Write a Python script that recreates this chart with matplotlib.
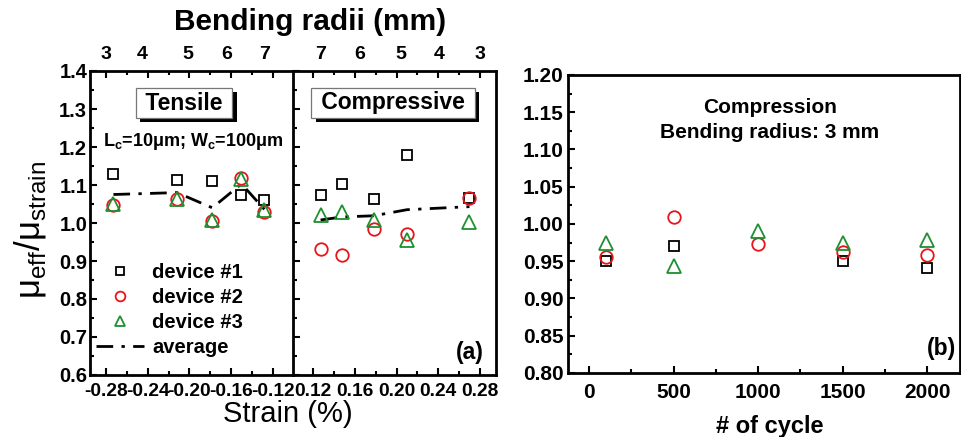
import numpy as np
import matplotlib
matplotlib.use('Agg')
import matplotlib.pyplot as plt
from matplotlib.lines import Line2D
import matplotlib.patheffects as pe

plt.rcParams['font.family'] = ['Liberation Sans', 'DejaVu Sans']
plt.rcParams['mathtext.fontset'] = 'custom'
plt.rcParams['mathtext.rm'] = 'Liberation Sans'

# ---- data, panel (a) tensile
strain_t = [-0.273, -0.212, -0.178, -0.150, -0.128]
dev1_t = [1.129, 1.113, 1.110, 1.074, 1.060]
dev2_t = [1.047, 1.062, 1.004, 1.118, 1.030]
dev3_t = [1.050, 1.063, 1.008, 1.116, 1.034]
avg_t = [1.075, 1.080, 1.040, 1.103, 1.036]

# ---- data, panel (a) compressive
strain_c = [0.127, 0.148, 0.178, 0.210, 0.270]
dev1_c = [1.074, 1.103, 1.063, 1.180, 1.066]
dev2_c = [0.932, 0.916, 0.985, 0.970, 1.066]
dev3_c = [1.021, 1.030, 1.008, 0.955, 1.003]
avg_c = [1.008, 1.016, 1.019, 1.035, 1.043]

# bending radius labels on top axis (strain position -> radius)
radius_pos_t = [-0.280, -0.245, -0.202, -0.164, -0.128]
radius_lab_t = ['3', '4', '5', '6', '7']
radius_pos_c = [0.127, 0.165, 0.2045, 0.241, 0.280]
radius_lab_c = ['7', '6', '5', '4', '3']

# ---- data, panel (b)
cycles = [100, 500, 1000, 1500, 2000]
cyc_dev1 = [100, 500, 1500, 2000]
b_dev1 = [0.950, 0.971, 0.951, 0.941]
b_dev2 = [0.956, 1.010, 0.973, 0.962, 0.959]
b_dev3 = [0.974, 0.943, 0.991, 0.975, 0.978]

BLACK = 'black'
RED = '#e8141c'
GREEN = '#1e9030'

W, H = 962, 437
fig = plt.figure(figsize=(W / 100, H / 100), dpi=100)


def fx(px):
    return px / W


def fy(py):
    return 1 - py / H


def box(l, t, r, b):
    return [fx(l), fy(b), fx(r) - fx(l), fy(t) - fy(b)]


ax1 = fig.add_axes(box(90, 71, 293, 375))
ax2 = fig.add_axes(box(293, 71, 496, 375))
ax3 = fig.add_axes(box(568, 75, 960, 373))

mk = dict(linestyle='none', markerfacecolor='none', markeredgewidth=1.3)


def draw_a(ax, xs, d1, d2, d3, av):
    ax.plot(xs, av, color=BLACK, lw=2.0, dashes=(6, 3, 1.2, 3))
    ax.plot(xs, d1, marker='s', ms=7.5, markeredgecolor=BLACK, **mk)
    ax.plot(xs, d2, marker='o', ms=9, markeredgecolor=RED, **mk)
    ax.plot(xs, d3, marker='^', ms=10, markeredgecolor=GREEN, **mk)


draw_a(ax1, strain_t, dev1_t, dev2_t, dev3_t, avg_t)
draw_a(ax2, strain_c, dev1_c, dev2_c, dev3_c, avg_c)

ax3.plot(cyc_dev1, b_dev1, marker='s', ms=7.5, markeredgecolor=BLACK, **mk)
ax3.plot(cycles, b_dev2, marker='o', ms=9, markeredgecolor=RED, **mk)
ax3.plot(cycles, b_dev3, marker='^', ms=10, markeredgecolor=GREEN, **mk)

ax1.set_xticks([-0.28, -0.24, -0.20, -0.16, -0.12])
ax1.set_xticklabels(['-0.28', '-0.24', '-0.20', '-0.16', '-0.12'])
ax2.set_xticks([0.12, 0.16, 0.20, 0.24, 0.28])
ax2.set_xticklabels(['0.12', '0.16', '0.20', '0.24', '0.28'])
ax1.set_xticks(np.arange(-0.28, -0.119, 0.02), minor=True)
ax2.set_xticks(np.arange(0.12, 0.281, 0.02), minor=True)
for ax in (ax1, ax2):
    ax.set_yticks(np.arange(0.6, 1.41, 0.1))
    ax.set_yticks(np.arange(0.6, 1.41, 0.05), minor=True)
    ax.set_ylim(0.6, 1.4)
ax1.set_yticklabels(['%.1f' % v for v in np.arange(0.6, 1.41, 0.1)])
ax2.set_yticklabels([])
ax1.set_xlim(-0.2955, -0.1005)
ax2.set_xlim(0.1005, 0.2955)

ax3.set_xticks([0, 500, 1000, 1500, 2000])
ax3.set_xticks(np.arange(0, 2001, 250), minor=True)
ax3.set_yticks(np.arange(0.80, 1.201, 0.05))
ax3.set_yticklabels(['%.2f' % v for v in np.arange(0.80, 1.201, 0.05)])
ax3.set_yticks(np.arange(0.80, 1.201, 0.025), minor=True)
ax3.set_xlim(-125, 2195)
ax3.set_ylim(0.80, 1.20)

for ax in (ax1, ax2, ax3):
    for s in ax.spines.values():
        s.set_linewidth(2.0)
    ax.tick_params(which='both', direction='in', width=1.5)
    ax.tick_params(which='major', length=5)
    ax.tick_params(which='minor', length=3)

ax1.spines['right'].set_visible(False)
for ax in (ax1, ax2):
    ax.tick_params(which='both', top=True, right=False)
    ax.tick_params(axis='x', labelsize=13.8, pad=6)
    for t in ax.get_xticklabels():
        t.set_fontweight('bold')
ax1.tick_params(axis='y', labelsize=14.5, pad=2)
for t in ax1.get_yticklabels():
    t.set_fontweight('bold')

ax3.tick_params(which='both', top=False, right=False)
ax3.tick_params(axis='x', labelsize=15, pad=7)
ax3.tick_params(axis='y', labelsize=15, pad=3)
for t in ax3.get_xticklabels() + ax3.get_yticklabels():
    t.set_fontweight('bold')

# top radius labels
for ax, pos, lab in ((ax1, radius_pos_t, radius_lab_t), (ax2, radius_pos_c, radius_lab_c)):
    sec = ax.secondary_xaxis('top')
    sec.set_xticks(pos)
    sec.set_xticklabels(lab)
    sec.tick_params(length=0, labelsize=14, pad=6)
    for t in sec.get_xticklabels():
        t.set_fontweight('bold')
    sec.spines['top'].set_visible(False)

# boxed labels with a drop shadow on the box
def shadow_label(x, y, s):
    t = fig.text(x, y, s, fontsize=16.5, fontweight='bold', ha='center', va='center',
                 bbox=dict(boxstyle='square,pad=0.15', fc='white', ec='#777777', lw=0.9))
    t.get_bbox_patch().set_path_effects([
        pe.SimplePatchShadow(offset=(3, -3), shadow_rgbFace='black', alpha=1.0),
        pe.Normal()])


shadow_label(fx(184), fy(103), ' Tensile ')
shadow_label(fx(393), fy(103), ' Compressive ')

fig.text(fx(193), fy(141), 'L$_\\mathregular{c}$=10μm; W$_\\mathregular{c}$=100μm',
         fontsize=13, fontweight='bold', ha='center', va='center')
fig.text(fx(470), fy(353), '(a)', fontsize=16.5, fontweight='bold', ha='center', va='center')
fig.text(fx(942), fy(349), '(b)', fontsize=16.5, fontweight='bold', ha='center', va='center')
fig.text(fx(770), fy(120), 'Compression\nBending radius: 3 mm', fontsize=15,
         fontweight='bold', ha='center', va='center', linespacing=1.4)

fig.text(fx(310), fy(22), 'Bending radii (mm)', fontsize=21.5, fontweight='bold',
         ha='center', va='center')
fig.text(fx(288), fy(414), 'Strain (%)', fontsize=21, ha='center', va='center')
fig.text(fx(770), fy(426), '# of cycle', fontsize=17, fontweight='bold',
         ha='center', va='center')
fig.text(fx(30), fy(230), 'μ$_\\mathregular{eff}$/μ$_\\mathregular{strain}$', fontsize=25,
         rotation=90, ha='center', va='center')

# legend
handles = [
    Line2D([], [], marker='s', ms=6, markeredgecolor=BLACK, **mk),
    Line2D([], [], marker='o', ms=7, markeredgecolor=RED, **mk),
    Line2D([], [], marker='^', ms=7.5, markeredgecolor=GREEN, **mk),
    Line2D([], [], color=BLACK, lw=2.0, dashes=(6, 3, 1.2, 3)),
]
labels = ['device #1', 'device #2', 'device #3', 'average']
leg = ax1.legend(handles, labels, loc='upper left', bbox_to_anchor=(0.03, 0.368),
                 frameon=False, borderpad=0, borderaxespad=0, labelspacing=0.3,
                 handlelength=2.4, handletextpad=0.4, prop={'size': 14.5, 'weight': 'bold'})

fig.savefig('out.png', dpi=100)
